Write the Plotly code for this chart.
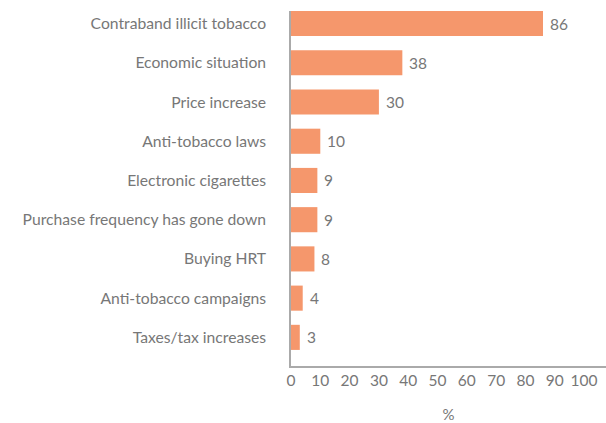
import plotly.graph_objects as go

categories = [
    "Contraband illicit tobacco",
    "Economic situation",
    "Price increase",
    "Anti-tobacco laws",
    "Electronic cigarettes",
    "Purchase frequency has gone down",
    "Buying HRT",
    "Anti-tobacco campaigns",
    "Taxes/tax increases",
]
values = [86, 38, 30, 10, 9, 9, 8, 4, 3]
x_ticks = list(range(0, 101, 10))

BAR_COLOR = "#F5976C"
TEXT_COLOR = "#777777"
FONT = "Lato"

# plot bottom-to-top so the first category sits at the top
cats = categories[::-1]
vals = values[::-1]

fig = go.Figure(
    go.Bar(
        x=vals,
        y=cats,
        orientation="h",
        marker=dict(color=BAR_COLOR, line=dict(width=0)),
        width=0.64,
        hoverinfo="skip",
    )
)

for c, v in zip(cats, vals):
    fig.add_annotation(
        x=v, y=c, text=str(v), showarrow=False,
        xanchor="left", yanchor="middle", xshift=5,
        font=dict(family=FONT, size=15.5, color=TEXT_COLOR),
    )

fig.update_layout(
    width=606,
    height=423,
    margin=dict(l=291, r=0, t=11, b=57),
    paper_bgcolor="white",
    plot_bgcolor="white",
    showlegend=False,
    font=dict(family=FONT, size=15, color=TEXT_COLOR),
    xaxis=dict(
        range=[0, 107.5],
        tickvals=x_ticks,
        ticktext=[str(t) for t in x_ticks],
        showgrid=False,
        zeroline=False,
        showline=True,
        linecolor="#AAAAAA",
        linewidth=1.5,
        ticks="",
        tickfont=dict(family=FONT, size=15.5, color=TEXT_COLOR),
        title=dict(text="%", standoff=22, font=dict(family=FONT, size=15, color=TEXT_COLOR)),
    ),
    yaxis=dict(
        type="category",
        categoryorder="array",
        categoryarray=cats,
        range=[-0.73, 8.32],
        showgrid=False,
        zeroline=False,
        showline=True,
        linecolor="#AAAAAA",
        linewidth=1.5,
        ticks="",
        ticklabelstandoff=20,
        tickfont=dict(family=FONT, size=15.7, color=TEXT_COLOR),
    ),
)

fig.write_html("out.html")
